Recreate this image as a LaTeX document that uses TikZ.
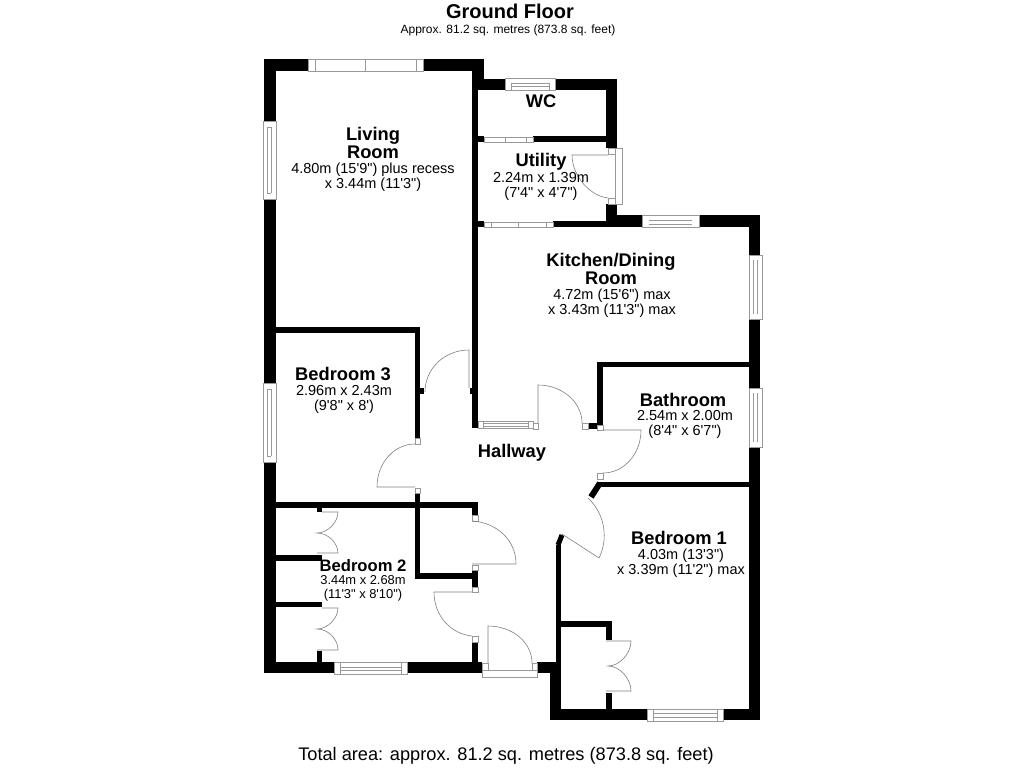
\documentclass[tikz,border=0pt]{standalone}
\usepackage{fontspec}
\newfontfamily\planfont{Liberation Sans}
\tikzset{
  wall/.style={fill=black},
  winframe/.style={draw=black!40, fill=white, line width=0.6pt},
  doorline/.style={draw=black!50, line width=0.6pt},
  jamb/.style={draw=black!40, fill=white, line width=0.6pt},
  roomname/.style={font=\planfont\bfseries\fontsize{18.3}{18}\selectfont, align=center, inner sep=0pt},
  roomsize/.style={font=\planfont\fontsize{14.5}{15}\selectfont, align=center, inner sep=0pt},
}
\begin{document}
\begin{tikzpicture}[x=1pt,y=-1pt]
    \useasboundingbox[fill=white] (0,0) rectangle (1024,768);

    % walls
    \foreach \xa/\ya/\xb/\yb in {
      264/59/308/71, 423/59/484/71, 472/59/484/90, 264/59/276/121, 264/199/276/383, 264/462/276/673,
      472/71/478/428, 470/388/472/394,
      484/79/505/90, 555/79/617/90, 472/79/484/90, 606/79/617/148, 478/136/484/142, 533/136/606/142,
      478/221/484/227, 553/221/617/227, 606/204/617/227, 617/215/642/227, 699/215/760/227,
      749/215/760/255, 749/319/760/388, 749/447/760/720,
      597/362/749/367, 597/362/603/425, 588/423/597/429,
      597/482/749/487, 556/545/561/720, 550/662/561/720, 537/662/550/673, 550/709/647/720, 723/709/760/720,
      561/621/612/627, 606/621/612/640, 606/693/612/709,
      276/327/420/333, 415/327/420/438, 420/388/424/394,
      276/502/478/508, 415/493/420/579, 472/502/478/515, 415/573/472/579, 472/570/478/587, 472/642/478/662,
      264/662/334/673, 407/662/482/673,
      317/507/322/512, 276/555/322/561, 276/602/322/607, 317/651/322/662
    }
      \fill[wall] (\xa,\ya) rectangle (\xb,\yb);
    \draw[black, line width=6pt] (600,483) -- (591,497);
    \draw[black, line width=5pt] (562,535) -- (558,545);

    % windows
    \foreach \xa/\ya/\xb/\yb in {
      308/59/423/71, 505/78/555/90, 642/215/699/227, 647/709/723/721,
      334/662/407/674, 263/121/276/199, 263/383/276/462, 749/255/762/319, 749/388/762/447,
      484/137/533/142, 484/222/553/227, 478/421/533/428
    }
      \filldraw[winframe] (\xa,\ya) rectangle (\xb,\yb);
    \draw[black!40, line width=0.5pt] (315,59) -- (315,71) (365,59) -- (365,71) (416,59) -- (416,71);
    \draw[black!40, line width=0.5pt] (511,83) -- (549,83) (511,86) -- (549,86) (511,83) -- (511,90) (549,83) -- (549,90);
    \draw[black!40, line width=0.5pt] (649,220) -- (692,220) (649,224) -- (692,224);
    \draw[black!40, line width=0.5pt] (653,713) -- (717,713) (653,717) -- (717,717) (653,709) -- (653,721) (717,709) -- (717,721);
    \draw[black!40, line width=0.5pt] (340,667) -- (401,667) (340,670) -- (401,670) (340,662) -- (340,674) (401,662) -- (401,674);
    \draw[black!40, line width=0.5pt] (267,127) -- (267,193) (271,127) -- (271,193) (267,127) -- (271,127) (267,193) -- (271,193);
    \draw[black!40, line width=0.5pt] (267,389) -- (267,456) (271,389) -- (271,456) (267,389) -- (271,389) (267,456) -- (271,456);
    \draw[black!40, line width=0.5pt] (753,260) -- (753,314) (757,260) -- (757,314);
    \draw[black!40, line width=0.5pt] (753,393) -- (753,442) (757,393) -- (757,442);
    \draw[black!40, line width=0.5pt] (505,137) -- (505,142) (526,137) -- (526,142);
    \draw[black!40, line width=0.5pt] (491,222) -- (491,227) (518,222) -- (518,227) (546,222) -- (546,227);
    \draw[black!40, line width=0.5pt] (483,421) -- (483,428) (483,423) -- (528,423) (483,426) -- (528,426) (528,421) -- (528,428);

    % door jambs and frames
    \foreach \xa/\ya/\xb/\yb in {
      608/148/615/154, 608/198/615/204, 615/148/622/204,
      533/423/538/429, 582/423/588/429, 597/425/603/430, 597/473/603/479,
      415/438/420/444, 415/488/420/493,
      472/515/478/521, 472/565/478/570, 472/587/478/592, 472/636/478/642,
      482/663/488/670, 532/663/537/670, 482/670/537/677
    }
      \filldraw[jamb] (\xa,\ya) rectangle (\xb,\yb);

    % door leaves and swings
    \draw[doorline] (469,388) -- (469,350) .. controls (445,350) and (425,368) .. (425,392);
    \draw[doorline] (415,487) -- (377,487) .. controls (377,463) and (394,444) .. (415,444);
    \draw[doorline] (538,423) -- (538,385) .. controls (562,385) and (582,402) .. (582,423);
    \draw[doorline] (603,430) -- (641,430) .. controls (641,454) and (624,473) .. (603,473);
    \draw[doorline] (562,534) -- (599,558) .. controls (608,540) and (606,515) .. (588,498);
    \draw[doorline] (472,564) -- (516,564) .. controls (516,540) and (497,523) .. (473,521);
    \draw[doorline] (472,592) -- (434,592) .. controls (434,616) and (451,634) .. (472,636);
    \draw[doorline] (488,663) -- (488,626) .. controls (512,626) and (532,642) .. (532,663);
    \draw[doorline] (608,155) -- (572,155) .. controls (572,176) and (590,196) .. (608,198);

    % cupboard doors
    \draw[doorline] (322,512) -- (338,512) .. controls (338,522) and (328,533) .. (317,533)
       .. controls (328,533) and (338,543) .. (338,553) -- (317,553);
    \draw[doorline] (322,608) -- (338,608) .. controls (338,618) and (328,629) .. (317,629)
       .. controls (328,629) and (338,639) .. (338,650) -- (317,650);
    \draw[doorline] (606,641) -- (631,641) .. controls (631,653) and (620,666) .. (608,666)
       .. controls (620,666) and (631,679) .. (631,691) -- (606,691);

    % titles
    \node[font=\planfont\bfseries\fontsize{20}{22}\selectfont] (groundfloor) at (510,11) {Ground Floor};
    \node[font=\planfont\fontsize{12}{13}\selectfont] (approxarea) at (508,30) {Approx. 81.2 sq. metres (873.8 sq. feet)};
    \node[font=\planfont\fontsize{18.2}{20}\selectfont] (totalarea) at (506,756) {Total area: approx. 81.2 sq. metres (873.8 sq. feet)};

    % rooms
    \node[roomname] (livingname) at (373,143) {Living\\Room};
    \node[roomsize] (livingsize) at (373,177) {4.80m (15'9") plus recess\\x 3.44m (11'3")};
    \node[roomname] (wcname) at (541,101) {WC};
    \node[roomname] (utilityname) at (541,162) {Utility};
    \node[roomsize] (utilitysize) at (541,186) {2.24m x 1.39m\\(7'4" x 4'7")};
    \node[roomname] (kitchenname) at (611,269) {Kitchen/Dining\\Room};
    \node[roomsize] (kitchensize) at (612,303) {4.72m (15'6") max\\x 3.43m (11'3") max};
    \node[roomname] (bedthreename) at (343,374) {Bedroom 3};
    \node[roomsize] (bedthreesize) at (344,399) {2.96m x 2.43m\\(9'8" x 8')};
    \node[roomname] (hallwayname) at (512,452.5) {Hallway};
    \node[roomname] (bathroomname) at (683,400) {Bathroom};
    \node[roomsize] (bathroomsize) at (685,424) {2.54m x 2.00m\\(8'4" x 6'7")};
    \node[roomname] (bedonename) at (679,538) {Bedroom 1};
    \node[roomsize] (bedonesize) at (681,563.5) {4.03m (13'3")\\x 3.39m (11'2") max};
    \node[roomname, font=\planfont\bfseries\fontsize{16.6}{18}\selectfont] (bedtwoname) at (363,566) {Bedroom 2};
    \node[roomsize, font=\planfont\fontsize{12.9}{14}\selectfont] (bedtwosize) at (363,588.5) {3.44m x 2.68m\\(11'3" x 8'10")};
\end{tikzpicture}
\end{document}
